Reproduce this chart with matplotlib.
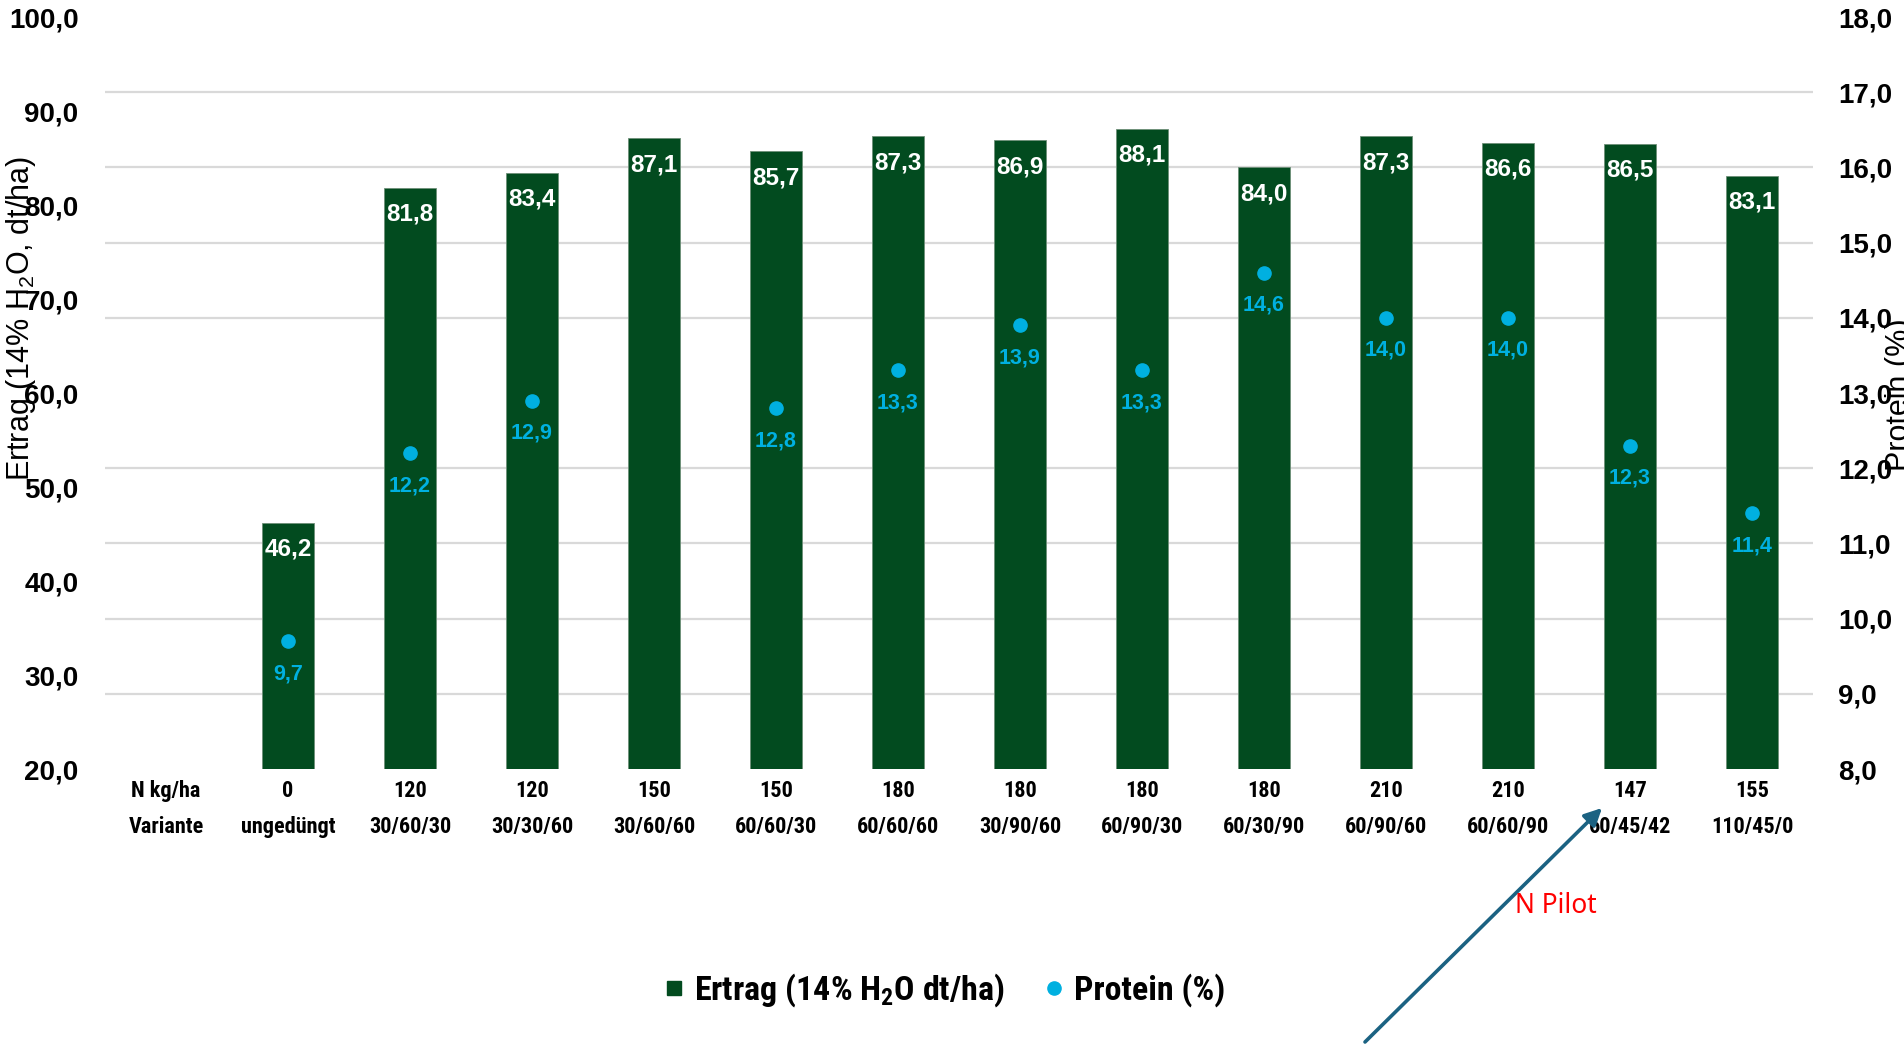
import os
import matplotlib
matplotlib.use("Agg")
import matplotlib.pyplot as plt
from matplotlib.lines import Line2D
from matplotlib.ticker import FixedLocator
from matplotlib import font_manager
from matplotlib.font_manager import FontProperties
import numpy as np

# ---- data -------------------------------------------------------------
n_rates = ["N kg/ha", "0", "120", "120", "150", "150", "180", "180", "180",
           "180", "210", "210", "147", "155"]
variants = ["Variante", "ungedüngt", "30/60/30", "30/30/60", "30/60/60",
            "60/60/30", "60/60/60", "30/90/60", "60/90/30", "60/30/90",
            "60/90/60", "60/60/90", "60/45/42", "110/45/0"]
ertrag = [np.nan, 46.2, 81.8, 83.4, 87.1, 85.7, 87.3, 86.9, 88.1, 84.0,
          87.3, 86.6, 86.5, 83.1]
protein = [np.nan, 9.7, 12.2, 12.9, np.nan, 12.8, 13.3, 13.9, 13.3, 14.6,
           14.0, 14.0, 12.3, 11.4]

ertrag_ticks = list(range(20, 101, 10))
protein_ticks = list(range(8, 19))

# ---- style ------------------------------------------------------------
GREEN = "#024B1F"
CYAN = "#00B0E0"
GRID = "#D9D9D9"
ARROW = "#1B6282"

plt.rcParams["font.family"] = ["Liberation Sans", "DejaVu Sans"]
plt.rcParams["mathtext.default"] = "regular"


def condensed_bold():
    """Pick a narrow bold face for the category labels and the legend."""
    prefs = [
        ("liberationsansnarrowbold", 16.0, 24.5),
        ("arialnarrowbold", 16.0, 24.5),
        ("robotocondensedbold", 16.0, 24.5),
        ("notosanscondensedbold", 15.5, 24.0),
        ("opensanscondensedbold", 15.5, 24.0),
        ("dejavusanscondensedbold", 14.0, 21.5),
    ]
    files = []
    for f in font_manager.fontManager.ttflist:
        key = os.path.basename(f.fname).lower()
        for ch in "-_ ":
            key = key.replace(ch, "")
        if "italic" in key or "oblique" in key:
            continue
        files.append((key, f.fname))
    for pat, s_cat, s_leg in prefs:
        for key, path in files:
            if pat in key:
                return path, s_cat, s_leg
    return None, 14.0, 21.5


narrow_path, CAT_SIZE, LEG_SIZE = condensed_bold()


def narrow_prop(size):
    if narrow_path:
        return FontProperties(fname=narrow_path, size=size)
    return FontProperties(family="Liberation Sans", weight="bold", size=size)


def de(v):
    return f"{v:.1f}".replace(".", ",")


W, H = 1904, 1048
fig = plt.figure(figsize=(W / 100, H / 100), dpi=100)
left, right, top, bottom = 105, 1813, 17, 769
ax = fig.add_axes([left / W, 1 - bottom / H, (right - left) / W, (bottom - top) / H])

x = np.arange(len(variants))

# bars (left axis)
ax.bar(x, ertrag, width=0.42, color=GREEN, edgecolor="#6E8F78", linewidth=0.6, zorder=2)
ax.set_xlim(-0.5, len(variants) - 0.5)
ax.set_ylim(ertrag_ticks[0], ertrag_ticks[-1])
ax.set_yticks(ertrag_ticks, labels=[de(t) for t in ertrag_ticks])

# gridlines follow the protein scale, drawn behind the bars
p0, p1 = protein_ticks[0], protein_ticks[-1]
e0, e1 = ertrag_ticks[0], ertrag_ticks[-1]
grid_pos = [e0 + (p - p0) * (e1 - e0) / (p1 - p0) for p in protein_ticks]
ax.yaxis.set_minor_locator(FixedLocator(grid_pos))
ax.grid(which="minor", axis="y", color=GRID, linewidth=1.6, zorder=0)
ax.set_axisbelow(True)

for s in ax.spines.values():
    s.set_visible(False)
ax.tick_params(axis="y", which="both", length=0, pad=19, labelsize=20)
for lab in ax.get_yticklabels():
    lab.set_fontweight("bold")

ax.set_xticks(x, labels=[f"{n}\n{v}" for n, v in zip(n_rates, variants)])
ax.tick_params(axis="x", length=0, pad=8)
for lab in ax.get_xticklabels():
    lab.set_fontproperties(narrow_prop(CAT_SIZE))
    lab.set_linespacing(1.8)

# yield labels inside bars
for xi, v in zip(x, ertrag):
    if np.isnan(v):
        continue
    ax.annotate(de(v), (xi, v), xytext=(0, -19), textcoords="offset points",
                ha="center", va="center", color="white", fontweight="bold",
                fontsize=17.5, zorder=3)

# protein (right axis)
ax2 = ax.twinx()
ax2.set_ylim(p0, p1)
ax2.set_yticks(protein_ticks, labels=[de(t) for t in protein_ticks])
for s in ax2.spines.values():
    s.set_visible(False)
ax2.tick_params(axis="y", length=0, pad=18, labelsize=20)
for lab in ax2.get_yticklabels():
    lab.set_fontweight("bold")
ax2.plot(x, protein, linestyle="none", marker="o", markersize=9.5,
         color=CYAN, zorder=4)
for xi, v in zip(x, protein):
    if np.isnan(v):
        continue
    ax2.annotate(de(v), (xi, v), xytext=(0, -23.5), textcoords="offset points",
                 ha="center", va="center", color=CYAN, fontweight="bold",
                 fontsize=15.5, zorder=4)

# axis titles
fig.text(21 / W, 1 - 318 / H, "Ertrag (14% H$_2$O, dt/ha)", rotation=90,
         ha="center", va="center", fontsize=22)
fig.text(1900 / W, 1 - 395 / H, "Protein (%)", rotation=90,
         ha="center", va="center", fontsize=22)

# legend
handles = [
    Line2D([], [], linestyle="none", marker="s", markersize=10.5, color=GREEN),
    Line2D([], [], linestyle="none", marker="o", markersize=9.5, color=CYAN),
]
fig.legend(handles, ["Ertrag (14% H$_2$O dt/ha)", "Protein (%)"],
           loc="center", bbox_to_anchor=(945 / W, 1 - 990 / H), ncol=2,
           frameon=False, handlelength=0.55, handletextpad=0.3,
           columnspacing=1.2, prop=narrow_prop(LEG_SIZE))

# N Pilot annotation
fig.add_artist(plt.Annotation(
    "", xy=(1602 / W, 1 - 808 / H), xytext=(1365 / W, 1 - 1042 / H),
    xycoords="figure fraction", textcoords="figure fraction",
    arrowprops=dict(arrowstyle="-|>", color=ARROW, lw=2.6, mutation_scale=26,
                    shrinkA=0, shrinkB=0)))
fig.text(1556 / W, 1 - 906 / H, "N Pilot", ha="center", va="center",
         color="#FF0000", fontsize=19, family=["Noto Sans", "DejaVu Sans"])

fig.savefig("out.png", dpi=100)
